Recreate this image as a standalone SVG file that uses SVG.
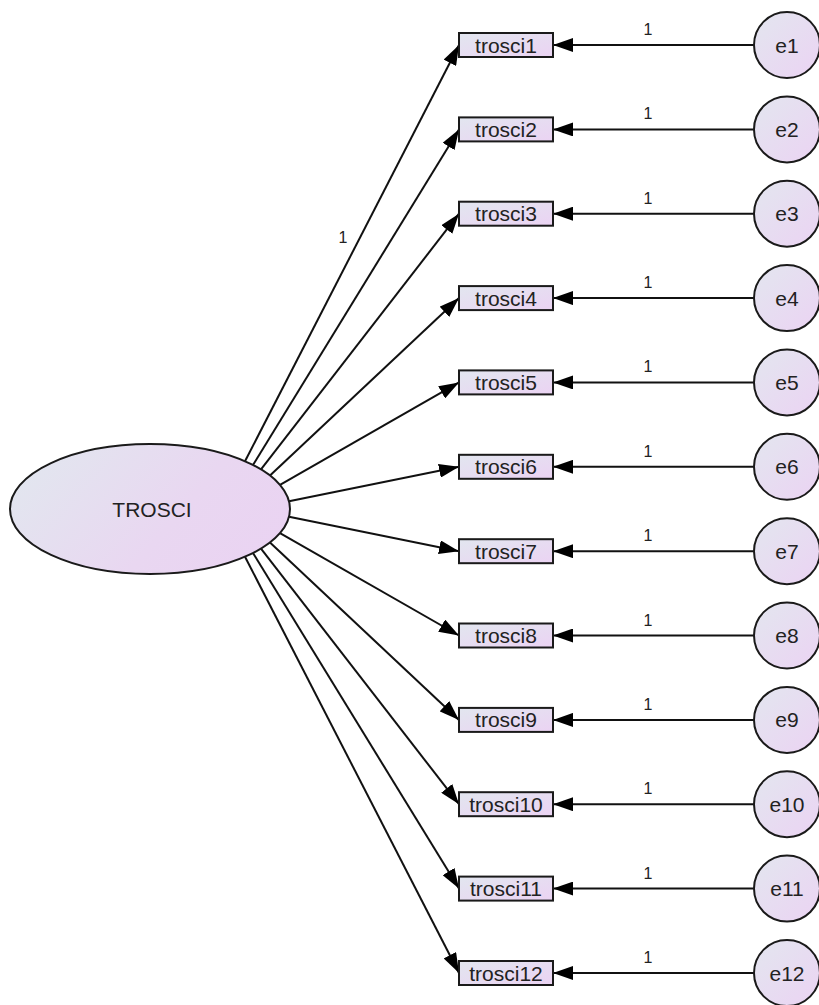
<svg xmlns="http://www.w3.org/2000/svg" width="819" height="1005" viewBox="0 0 819 1005">
<style>
.shape{stroke:#1a1a1a;stroke-width:2}
.lbl{font-family:"Liberation Sans",Arial,sans-serif;font-size:21px;fill:#222;text-anchor:middle}
.num{font-family:"Liberation Sans",Arial,sans-serif;font-size:16px;fill:#222;text-anchor:middle}
.path{stroke:#111;stroke-width:2;fill:none;marker-end:url(#arr)}
</style>
<defs>
<linearGradient id="gE" x1="0" y1="0.3" x2="1" y2="0.7"><stop offset="0" stop-color="#e2e6ef"/><stop offset="0.6" stop-color="#e9d7f1"/><stop offset="1" stop-color="#ead3f2"/></linearGradient>
<linearGradient id="gB" x1="0" y1="0" x2="1" y2="1"><stop offset="0" stop-color="#e2e6ef"/><stop offset="1" stop-color="#ebd3f3"/></linearGradient>
<linearGradient id="gC" x1="0" y1="0" x2="1" y2="1"><stop offset="0" stop-color="#e3e6ef"/><stop offset="1" stop-color="#ebd3f3"/></linearGradient>
<marker id="arr" markerUnits="userSpaceOnUse" markerWidth="20" markerHeight="14" refX="20" refY="7" orient="auto"><path d="M0,0 L20,7 L0,14 z" fill="#000"/></marker>
</defs>
<g id="connectors">
<line class="path" x1="245" y1="461.3" x2="459" y2="45"/>
<line class="path" x1="253" y1="465" x2="459" y2="129.4"/>
<line class="path" x1="261" y1="469.4" x2="459" y2="213.7"/>
<line class="path" x1="270" y1="475.5" x2="459" y2="298.1"/>
<line class="path" x1="280" y1="484.9" x2="459" y2="382.4"/>
<line class="path" x1="289" y1="501.2" x2="459" y2="466.8"/>
<line class="path" x1="289" y1="516.8" x2="459" y2="551.2"/>
<line class="path" x1="280" y1="533.1" x2="459" y2="635.5"/>
<line class="path" x1="270" y1="542.5" x2="459" y2="719.9"/>
<line class="path" x1="261" y1="548.6" x2="459" y2="804.2"/>
<line class="path" x1="253" y1="553" x2="459" y2="888.6"/>
<line class="path" x1="245" y1="556.7" x2="459" y2="973"/>
<text class="num" x="343" y="243">1</text>
<line class="path" x1="754" y1="45" x2="553" y2="45"/>
<line class="path" x1="754" y1="129.4" x2="553" y2="129.4"/>
<line class="path" x1="754" y1="213.7" x2="553" y2="213.7"/>
<line class="path" x1="754" y1="298.1" x2="553" y2="298.1"/>
<line class="path" x1="754" y1="382.4" x2="553" y2="382.4"/>
<line class="path" x1="754" y1="466.8" x2="553" y2="466.8"/>
<line class="path" x1="754" y1="551.2" x2="553" y2="551.2"/>
<line class="path" x1="754" y1="635.5" x2="553" y2="635.5"/>
<line class="path" x1="754" y1="719.9" x2="553" y2="719.9"/>
<line class="path" x1="754" y1="804.2" x2="553" y2="804.2"/>
<line class="path" x1="754" y1="888.6" x2="553" y2="888.6"/>
<line class="path" x1="754" y1="973" x2="553" y2="973"/>
<text class="num" x="648" y="35">1</text>
<text class="num" x="648" y="119.4">1</text>
<text class="num" x="648" y="203.7">1</text>
<text class="num" x="648" y="288.1">1</text>
<text class="num" x="648" y="372.4">1</text>
<text class="num" x="648" y="456.8">1</text>
<text class="num" x="648" y="541.2">1</text>
<text class="num" x="648" y="625.5">1</text>
<text class="num" x="648" y="709.9">1</text>
<text class="num" x="648" y="794.2">1</text>
<text class="num" x="648" y="878.6">1</text>
<text class="num" x="648" y="963">1</text>
</g>
<g id="TROSCI"><ellipse class="shape" cx="150" cy="509" rx="140" ry="65" fill="url(#gE)"/><text class="lbl" x="152" y="517">TROSCI</text></g>
<g id="trosci1"><rect class="shape" x="459" y="33" width="94" height="24" fill="url(#gB)"/><text class="lbl" x="506" y="52.5">trosci1</text></g>
<g id="trosci2"><rect class="shape" x="459" y="117.4" width="94" height="24" fill="url(#gB)"/><text class="lbl" x="506" y="136.9">trosci2</text></g>
<g id="trosci3"><rect class="shape" x="459" y="201.7" width="94" height="24" fill="url(#gB)"/><text class="lbl" x="506" y="221.2">trosci3</text></g>
<g id="trosci4"><rect class="shape" x="459" y="286.1" width="94" height="24" fill="url(#gB)"/><text class="lbl" x="506" y="305.6">trosci4</text></g>
<g id="trosci5"><rect class="shape" x="459" y="370.4" width="94" height="24" fill="url(#gB)"/><text class="lbl" x="506" y="389.9">trosci5</text></g>
<g id="trosci6"><rect class="shape" x="459" y="454.8" width="94" height="24" fill="url(#gB)"/><text class="lbl" x="506" y="474.3">trosci6</text></g>
<g id="trosci7"><rect class="shape" x="459" y="539.2" width="94" height="24" fill="url(#gB)"/><text class="lbl" x="506" y="558.7">trosci7</text></g>
<g id="trosci8"><rect class="shape" x="459" y="623.5" width="94" height="24" fill="url(#gB)"/><text class="lbl" x="506" y="643">trosci8</text></g>
<g id="trosci9"><rect class="shape" x="459" y="707.9" width="94" height="24" fill="url(#gB)"/><text class="lbl" x="506" y="727.4">trosci9</text></g>
<g id="trosci10"><rect class="shape" x="459" y="792.2" width="94" height="24" fill="url(#gB)"/><text class="lbl" x="506" y="811.7">trosci10</text></g>
<g id="trosci11"><rect class="shape" x="459" y="876.6" width="94" height="24" fill="url(#gB)"/><text class="lbl" x="506" y="896.1">trosci11</text></g>
<g id="trosci12"><rect class="shape" x="459" y="961" width="94" height="24" fill="url(#gB)"/><text class="lbl" x="506" y="980.5">trosci12</text></g>
<g id="e1"><circle class="shape" cx="787" cy="45" r="33" fill="url(#gC)"/><text class="lbl" x="787" y="52.5">e1</text></g>
<g id="e2"><circle class="shape" cx="787" cy="129.4" r="33" fill="url(#gC)"/><text class="lbl" x="787" y="136.9">e2</text></g>
<g id="e3"><circle class="shape" cx="787" cy="213.7" r="33" fill="url(#gC)"/><text class="lbl" x="787" y="221.2">e3</text></g>
<g id="e4"><circle class="shape" cx="787" cy="298.1" r="33" fill="url(#gC)"/><text class="lbl" x="787" y="305.6">e4</text></g>
<g id="e5"><circle class="shape" cx="787" cy="382.4" r="33" fill="url(#gC)"/><text class="lbl" x="787" y="389.9">e5</text></g>
<g id="e6"><circle class="shape" cx="787" cy="466.8" r="33" fill="url(#gC)"/><text class="lbl" x="787" y="474.3">e6</text></g>
<g id="e7"><circle class="shape" cx="787" cy="551.2" r="33" fill="url(#gC)"/><text class="lbl" x="787" y="558.7">e7</text></g>
<g id="e8"><circle class="shape" cx="787" cy="635.5" r="33" fill="url(#gC)"/><text class="lbl" x="787" y="643">e8</text></g>
<g id="e9"><circle class="shape" cx="787" cy="719.9" r="33" fill="url(#gC)"/><text class="lbl" x="787" y="727.4">e9</text></g>
<g id="e10"><circle class="shape" cx="787" cy="804.2" r="33" fill="url(#gC)"/><text class="lbl" x="787" y="811.7">e10</text></g>
<g id="e11"><circle class="shape" cx="787" cy="888.6" r="33" fill="url(#gC)"/><text class="lbl" x="787" y="896.1">e11</text></g>
<g id="e12"><circle class="shape" cx="787" cy="973" r="33" fill="url(#gC)"/><text class="lbl" x="787" y="980.5">e12</text></g>
</svg>
